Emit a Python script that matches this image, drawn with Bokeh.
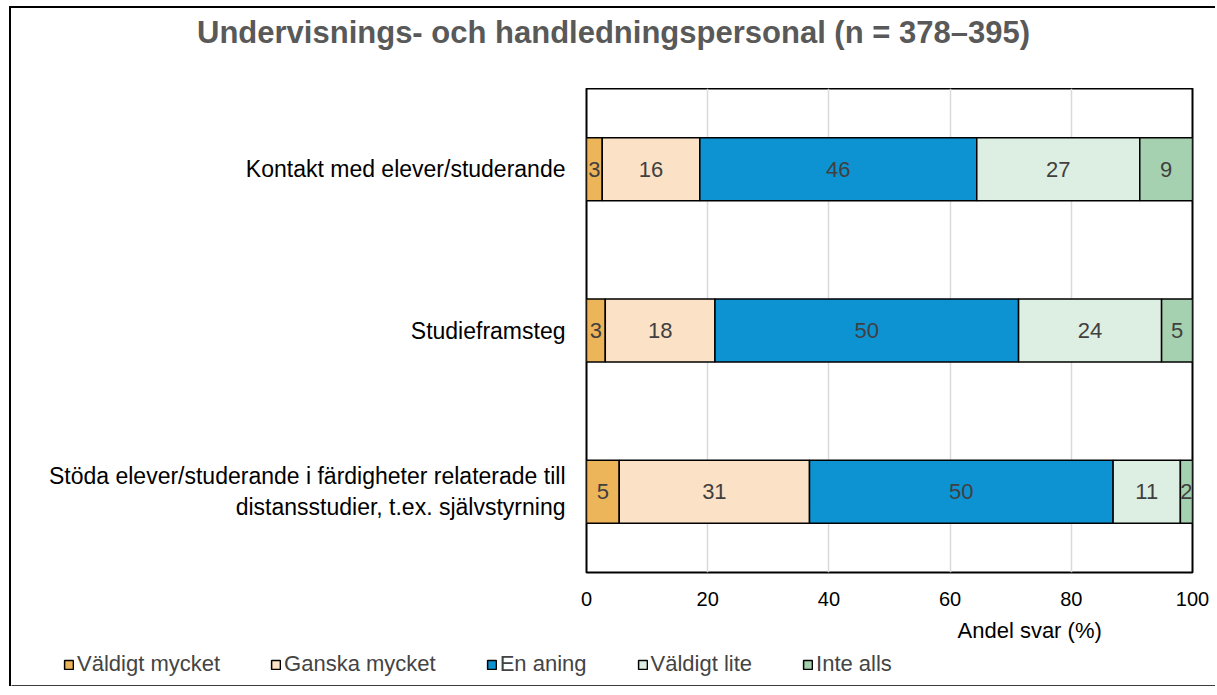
from bokeh.plotting import figure
from bokeh.layouts import column
from bokeh.models import ColumnDataSource, Legend, LegendItem, Title, Range1d
from bokeh.core.properties import value
from bokeh.embed import file_html
from bokeh.resources import INLINE

# ---- data ----
categories = [
    "Kontakt med elever/studerande",
    "Studieframsteg",
    "Stöda elever/studerande i färdigheter relaterade till\ndistansstudier, t.ex. självstyrning",
]
series = ["Väldigt mycket", "Ganska mycket", "En aning", "Väldigt lite", "Inte alls"]
valdigt_mycket = [2.6, 3.1, 5.4]
ganska_mycket = [16.1, 18.1, 31.4]
en_aning = [45.7, 50.1, 50.1]
valdigt_lite = [26.9, 23.6, 11.1]
inte_alls = [8.7, 5.1, 2.0]
colors = ["#EDB55A", "#FBE1C6", "#0E93D2", "#DDEEE2", "#A6D1B0"]
x_ticks = [0, 20, 40, 60, 80, 100]
title_text = "Undervisnings- och handledningspersonal (n = 378–395)"
x_title = "Andel svar (%)"

values = [valdigt_mycket, ganska_mycket, en_aning, valdigt_lite, inte_alls]
keys = ["s0", "s1", "s2", "s3", "s4"]

data = {"cat": categories}
for k, v in zip(keys, values):
    data[k] = v
source = ColumnDataSource(data)

FONT = "Liberation Sans"
W = 1204


def no_align(fig):
    if "frame_align" in fig.properties():
        fig.frame_align = False


# ---- title strip ----
t = figure(width=W, height=80, x_range=Range1d(0, 1), y_range=Range1d(0, 1),
           min_border=0, x_axis_location=None, y_axis_location=None,
           output_backend="svg", toolbar_location=None, title=title_text)
t.title.align = "center"
t.title.standoff = 8
t.title.text_font = FONT
t.title.text_font_size = "31px"
t.title.text_color = "#595959"
t.title.text_font_style = "bold"
t.grid.visible = False
t.outline_line_color = None
no_align(t)

# ---- main chart ----
p = figure(
    y_range=list(reversed(categories)),
    x_range=Range1d(0, 100),
    width=W, height=562,
    min_border_left=575, min_border_right=W - 575 - 606,
    min_border_top=0, min_border_bottom=78,
    output_backend="svg", toolbar_location=None,
)
p.title.visible = False
no_align(p)

renderers = p.hbar_stack(
    keys, y="cat", height=0.39, color=colors, source=source,
    line_color="black", line_width=1.5,
)

# value labels
left = [0.0] * len(categories)
for k, v in zip(keys, values):
    centers = [l + x / 2 for l, x in zip(left, v)]
    texts = [f"{x:.0f}" for x in v]
    p.text(x=centers, y=categories, text=texts,
           text_align="center", text_baseline="middle",
           text_font=value(FONT), text_font_size="22px", text_color="#404040")
    left = [l + x for l, x in zip(left, v)]

p.xaxis.ticker = x_ticks
p.xaxis.major_tick_line_color = None
p.xaxis.minor_tick_line_color = None
p.xaxis.axis_line_color = None
p.xaxis.major_label_text_font = FONT
p.xaxis.major_label_text_font_size = "20px"
p.xaxis.major_label_text_color = "black"
p.xaxis.major_label_standoff = 13

p.yaxis.major_tick_line_color = None
p.yaxis.minor_tick_line_color = None
p.yaxis.axis_line_color = None
p.yaxis.major_label_text_font = FONT
p.yaxis.major_label_text_font_size = "23px"
p.yaxis.major_label_text_color = "black"
p.yaxis.major_label_standoff = 15

p.xgrid.grid_line_color = "#D9D9D9"
p.xgrid.grid_line_width = 1.5
p.ygrid.grid_line_color = None
p.y_range.range_padding = 0

p.outline_line_color = "black"
p.outline_line_width = 2
p.background_fill_color = "white"
p.border_fill_color = "white"

xt = Title(text=x_title, align="left", offset=371, standoff=15,
           text_font=FONT, text_font_size="22px", text_color="black",
           text_font_style="normal")
p.add_layout(xt, "below")

# ---- legend strip ----
q = figure(width=W, height=36, x_range=Range1d(0, 1), y_range=Range1d(0, 1),
           min_border=0, x_axis_location=None, y_axis_location=None,
           output_backend="svg", toolbar_location=None)
q.grid.visible = False
q.outline_line_color = None
q.border_fill_color = "white"
no_align(q)
legend_renderers = [
    q.hbar(y=[-10], left=[0], right=[1], height=0.5, color=c,
           line_color="black", line_width=1.5)
    for c in colors
]
items = [LegendItem(label=s, renderers=[r]) for s, r in zip(series, legend_renderers)]
legend = Legend(items=items, orientation="horizontal", location=(52, 9),
                padding=0, margin=0, spacing=50, label_standoff=3,
                glyph_width=11, glyph_height=11, label_height=26,
                label_text_font=FONT, label_text_font_size="22px",
                border_line_color=None, background_fill_alpha=0)
q.add_layout(legend, "center")

layout = column(t, p, q, spacing=0,
                styles={"border-left": "2px solid #000", "border-top": "2px solid #000",
                        "margin-left": "9px", "margin-top": "6px"})

open("out.html", "w").write(file_html(layout, INLINE))
